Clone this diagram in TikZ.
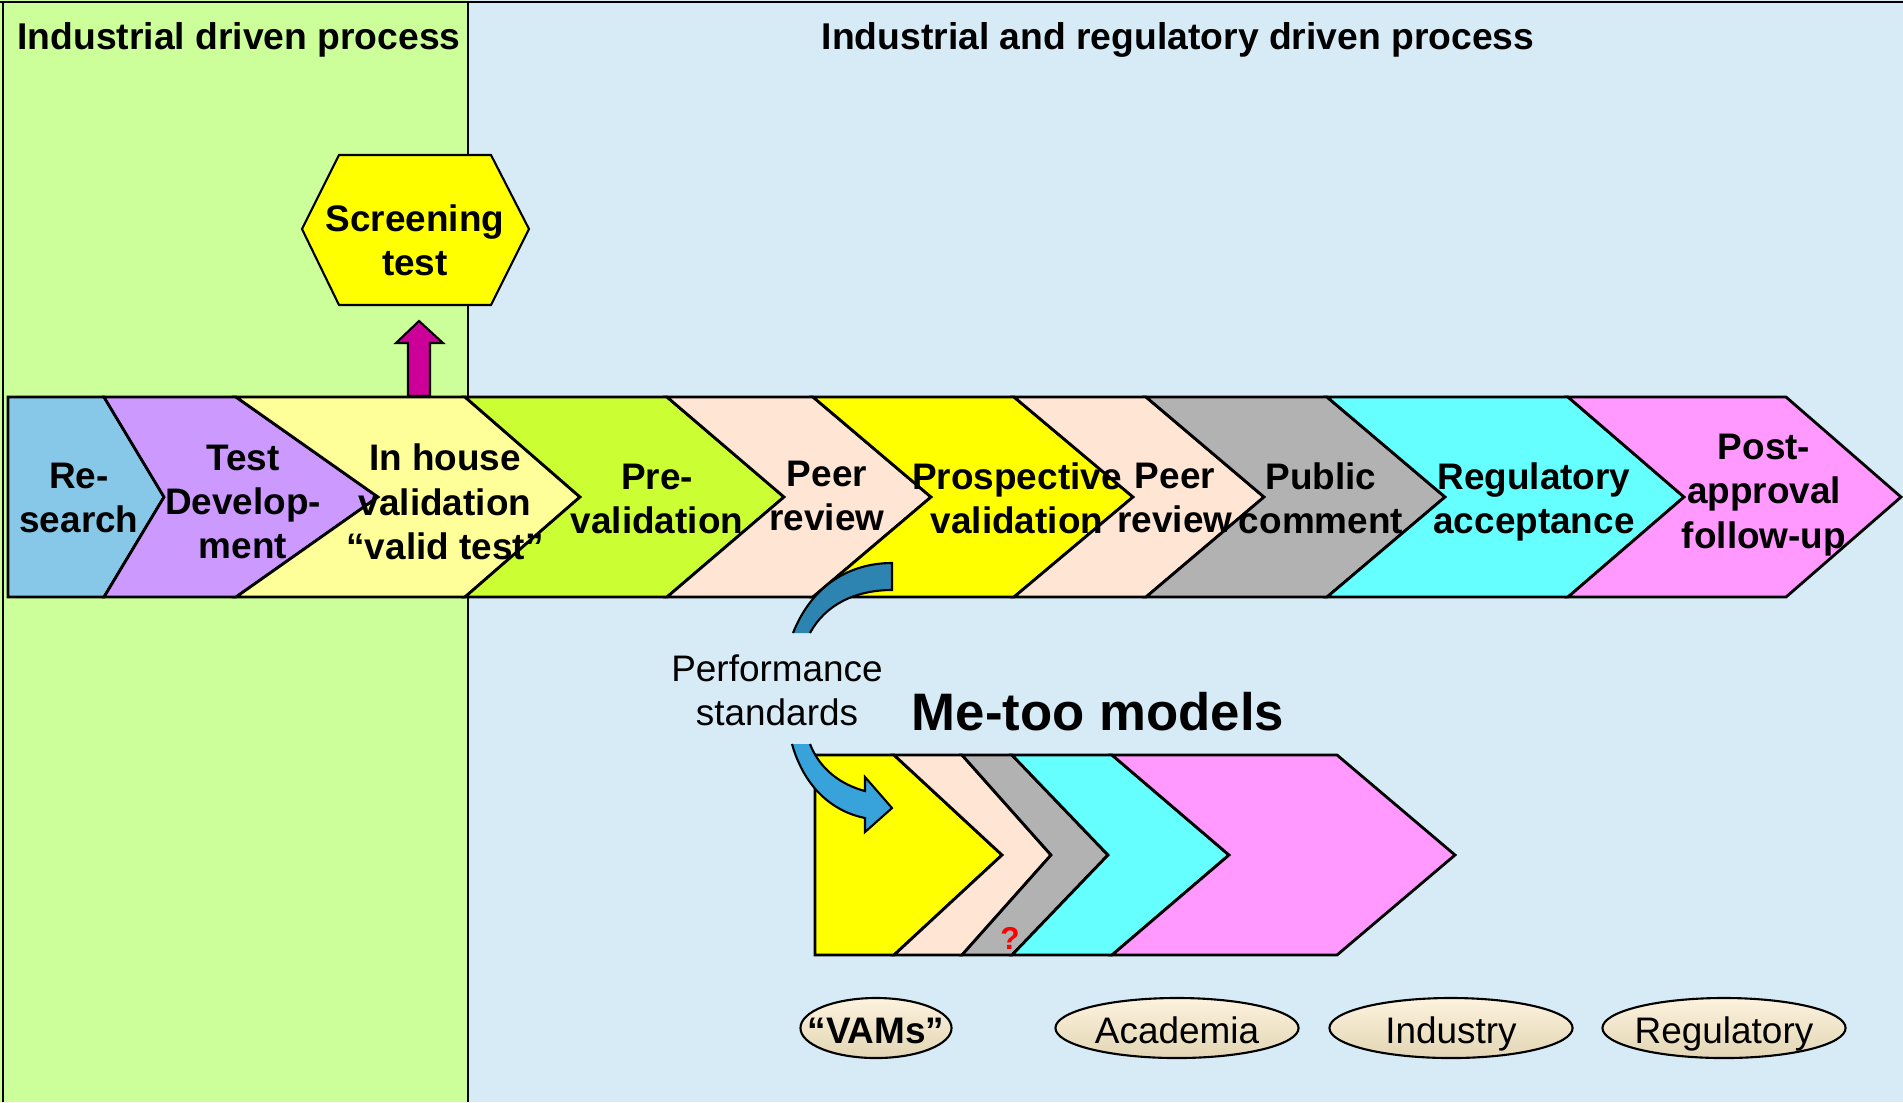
\documentclass[tikz,border=0pt]{standalone}
\usepackage{fontspec}
\setmainfont{Liberation Sans}
\usetikzlibrary{shapes.geometric}

\definecolor{leftgreen}{RGB}{204,255,153}
\definecolor{rightblue}{RGB}{215,235,246}
\definecolor{cresearch}{RGB}{135,200,232}
\definecolor{cdevelop}{RGB}{204,153,255}
\definecolor{cinhouse}{RGB}{255,255,153}
\definecolor{clime}{RGB}{204,255,51}
\definecolor{cpeach}{RGB}{255,229,212}
\definecolor{cyell}{RGB}{255,255,0}
\definecolor{cgray}{RGB}{178,178,178}
\definecolor{ccyan}{RGB}{102,255,255}
\definecolor{cpink}{RGB}{255,153,255}
\definecolor{cmagenta}{RGB}{204,0,153}
\definecolor{arrowdark}{RGB}{46,132,176}
\definecolor{arrowlight}{RGB}{56,163,219}
\definecolor{creamtop}{RGB}{253,243,222}
\definecolor{creambot}{RGB}{226,213,180}

\begin{document}
\begin{tikzpicture}[
  x=0.01cm, y=-0.01cm,
  stagetext/.style={font=\fontsize{10.5}{12.6}\selectfont\bfseries, align=center, inner sep=0pt},
  titletext/.style={font=\fontsize{10.6}{12.6}\selectfont\bfseries, inner sep=0pt},
  chev/.style={draw=black, line width=0.8pt, line join=miter},
  group/.style={ellipse, draw=black, line width=0.6pt, top color=creamtop, bottom color=creambot,
    minimum width=2.43cm, minimum height=0.6cm, inner sep=0pt},
  grouptext/.style={anchor=base, inner sep=0pt, font=\fontsize{10.5}{12}\selectfont},
  ]
\useasboundingbox (0,0) rectangle (1903,1102);

% the two panels
\fill[leftgreen] (0,0) rectangle (468,1102);
\fill[rightblue] (468,0) rectangle (1903,1102);
\draw[line width=0.8pt] (0,2) -- (1903,2);
\draw[line width=0.8pt] (3,2) -- (3,1102);
\draw[line width=0.8pt] (468,2) -- (468,1102);
\node[titletext] (lefttitle) at (239,40) {Industrial driven process};
\node[titletext] (righttitle) at (1178,40) {Industrial and regulatory driven process};

% screening test
\draw[fill=cyell, line width=0.6pt] (339,155) -- (491,155) -- (529,229) -- (491,305) -- (339,305) -- (302,229) -- cycle;
\node[stagetext] (screen) at (415,240) {Screening\\test};
\draw[fill=cmagenta, line width=0.6pt] (408,396) -- (408,343) -- (396,343) -- (419,321) -- (443,343) -- (430,343) -- (430,396) -- cycle;

% main process band
\foreach \xl/\xn/\xr/\xt/\col in {8/8/104/164/cresearch, 104/164/236/378/cdevelop,
    236/378/465/580/cinhouse, 465/580/667/784/clime, 667/784/813/931/cpeach,
    813/931/1014/1133/cyell, 1014/1133/1146/1264/cpeach, 1146/1264/1327/1445/cgray,
    1327/1445/1568/1684/ccyan, 1568/1684/1786/1901/cpink}
  \draw[chev, fill=\col] (\xl,397) -- (\xr,397) -- (\xt,497) -- (\xr,597) -- (\xl,597) -- (\xn,497) -- cycle;

\node[stagetext] (research) at (79,498) {Re-\\search};
\node[stagetext] (develop) at (243,502) {Test\\Develop-\\ment};
\node[stagetext] (inhouse) at (445,502) {In house\\validation\\“valid test”};
\node[stagetext] (prevalid) at (657,499) {Pre-\\validation};
\node[stagetext] (peerone) at (827,496) {Peer\\review};
\node[stagetext] (prospect) at (1017,498) {Prospective\\validation};
\node[stagetext] (peertwo) at (1175,498) {Peer\\review};
\node[stagetext] (public) at (1321,498) {Public\\comment};
\node[stagetext] (regaccept) at (1534,502) {Regulatory\\acceptance};
\node[stagetext] (postappr) at (1764,495) {Post-\\approval\\follow-up};

% me-too band
\foreach \xl/\xn/\xr/\xt/\col in {815/815/894/1002/cyell, 894/1002/962/1051/cpeach,
    962/1051/1012/1108/cgray, 1012/1108/1112/1229/ccyan, 1112/1229/1337/1455/cpink}
  \draw[chev, fill=\col] (\xl,755) -- (\xr,755) -- (\xt,855) -- (\xr,955) -- (\xl,955) -- (\xn,855) -- cycle;
\node[text=red, font=\fontsize{9}{10}\selectfont\bfseries, inner sep=0pt] (unsure) at (1010,938) {?};
\node[font=\fontsize{15}{18}\selectfont\bfseries, inner sep=0pt] (metoo) at (1098,712) {Me-too models};

% performance standards arrow
\fill[arrowdark] (793,633) .. controls (812,585) and (850,563) .. (892,563) -- (892,590)
  .. controls (855,590) and (825,605) .. (810,633) -- cycle;
\draw[line width=0.6pt] (793,633) .. controls (812,585) and (850,563) .. (892,563) -- (892,590)
  .. controls (855,590) and (825,605) .. (810,633);
\fill[arrowlight] (792,744) .. controls (805,790) and (835,812) .. (865,818) -- (865,832) -- (892,808)
  -- (865,777) -- (865,791) .. controls (842,785) and (820,770) .. (810,744) -- cycle;
\draw[line width=0.6pt] (792,744) .. controls (805,790) and (835,812) .. (865,818) -- (865,832) -- (892,808)
  -- (865,777) -- (865,791) .. controls (842,785) and (820,770) .. (810,744);
\node[font=\fontsize{10.5}{12.4}\selectfont, align=center, inner sep=0pt] (perf) at (777,690) {Performance\\standards};

% who builds the models
\node[group, minimum width=1.51cm] (vams) at (876,1028) {};
\node[group] (academia) at (1177,1028) {};
\node[group] (industry) at (1451,1028) {};
\node[group] (regulatory) at (1724,1028) {};
\node[grouptext, font=\fontsize{10.5}{12}\selectfont\bfseries] (vamstext) at (876,1043) {“VAMs”};
\node[grouptext] (academiatext) at (1177,1043) {Academia};
\node[grouptext] (industrytext) at (1451,1043) {Industry};
\node[grouptext] (regulatorytext) at (1724,1043) {Regulatory};
\end{tikzpicture}
\end{document}
